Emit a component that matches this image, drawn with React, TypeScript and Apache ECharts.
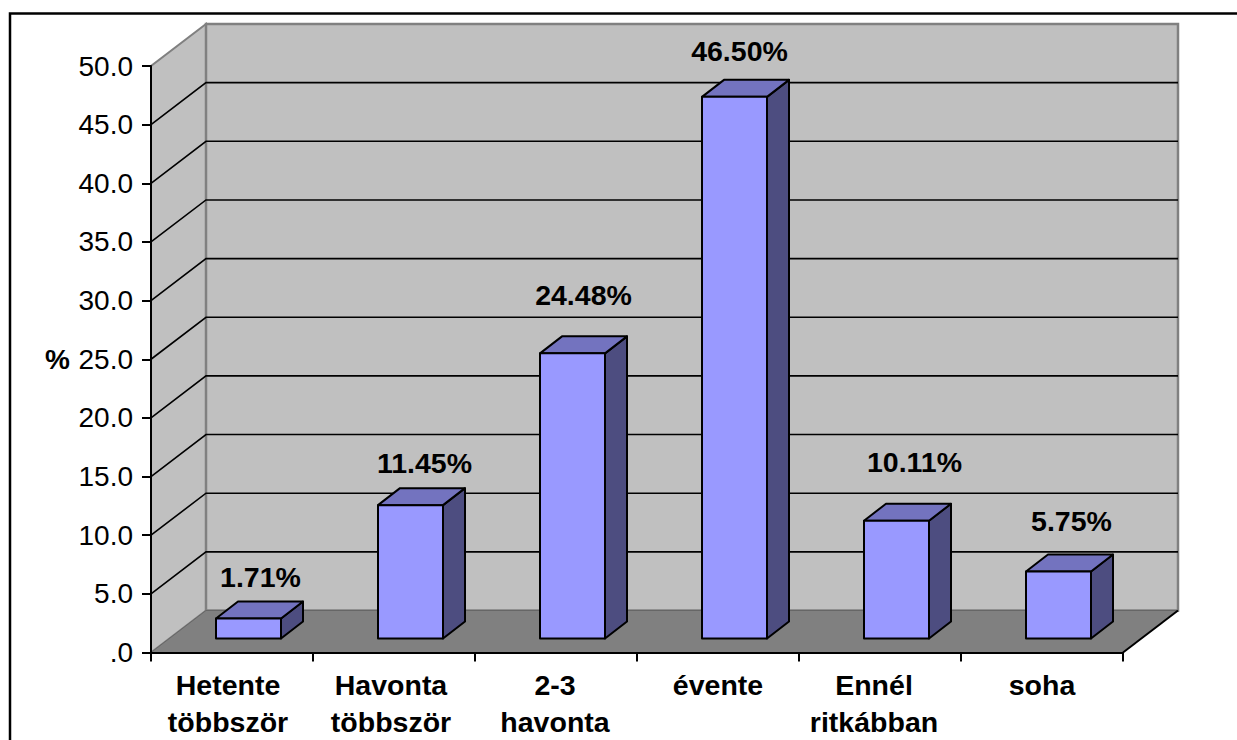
import React, { useEffect, useRef } from "react";
import * as echarts from "echarts";

const categories = ["Hetente\ntöbbször", "Havonta\ntöbbször", "2-3\nhavonta", "évente", "Ennél\nritkábban", "soha"];
const percentages = [1.71, 11.45, 24.48, 46.5, 10.11, 5.75];
const gridTicks = [5, 10, 15, 20, 25, 30, 35, 40, 45];
const labelNudgeX = [12, 14, 11, 5, 18, 13];
const labelNudgeY = [-24.5, -25, -41, -29, -42, -34];
const categoryShift = [4, 3, 1, 0, 6, 0];

const FONT = '"Liberation Sans", Arial, sans-serif';
const WALL_DX = 55;
const WALL_DY = -42;
const BAR_WIDTH = 65;
const BAR_DX = 22;
const BAR_DY = -17;
const BAR_SHIFT_X = 16.5;
const BAR_SHIFT_Y = -14;
const BAR_SCALE = 0.993;

function extent(api: any) {
  const slot = api.size([1, 0])[0];
  const o = api.coord([0, 0]);
  const last = api.coord([categories.length - 1, 0]);
  const top = api.coord([0, 50]);
  return { slot, left: o[0] - slot / 2, right: last[0] + slot / 2, y0: o[1], yTop: top[1] };
}

function renderWalls(_: any, api: any) {
  const { left, right, y0, yTop } = extent(api);
  const bx = left + WALL_DX;
  const brx = right + WALL_DX;
  const by = y0 + WALL_DY;
  const bt = yTop + WALL_DY;
  return {
    type: "group",
    children: [
      {
        type: "polygon",
        shape: { points: [[left, y0], [bx, by], [bx, bt], [left, yTop]] },
        style: { fill: "#C0C0C0", stroke: "#808080", lineWidth: 2 },
      },
      {
        type: "polygon",
        shape: { points: [[bx, by], [brx, by], [brx, bt], [bx, bt]] },
        style: { fill: "#C0C0C0", stroke: "#808080", lineWidth: 2.5 },
      },
      {
        type: "polygon",
        shape: { points: [[left, y0], [right, y0], [brx, by], [bx, by]] },
        style: { fill: "#808080", stroke: "#666666", lineWidth: 1 },
      },
      {
        type: "line",
        shape: { x1: right, y1: y0, x2: brx, y2: by },
        style: { stroke: "#000", lineWidth: 2 },
      },
    ],
  };
}

function renderGridline(_: any, api: any) {
  const { left, right } = extent(api);
  const y = api.coord([0, api.value(1)])[1];
  return {
    type: "polyline",
    shape: {
      points: [
        [left, y],
        [left + WALL_DX, y + WALL_DY],
        [right + WALL_DX, y + WALL_DY],
      ],
    },
    style: { fill: "none", stroke: "#000", lineWidth: 1.6 },
  };
}

function renderBar(params: any, api: any) {
  const i = api.value(0);
  const v = api.value(1);
  const base = api.coord([i, 0]);
  const x0 = base[0] + BAR_SHIFT_X - BAR_WIDTH / 2;
  const x1 = x0 + BAR_WIDTH;
  const yb = base[1] + BAR_SHIFT_Y;
  const yt = yb - (base[1] - api.coord([i, v])[1]) * BAR_SCALE;
  const edge = { stroke: "#000", lineWidth: 2, lineJoin: "round" };
  return {
    type: "group",
    children: [
      {
        type: "polygon",
        shape: { points: [[x1, yb], [x1 + BAR_DX, yb + BAR_DY], [x1 + BAR_DX, yt + BAR_DY], [x1, yt]] },
        style: { fill: "#4D4D80", ...edge },
      },
      {
        type: "polygon",
        shape: { points: [[x0, yt], [x1, yt], [x1 + BAR_DX, yt + BAR_DY], [x0 + BAR_DX, yt + BAR_DY]] },
        style: { fill: "#7373BF", ...edge },
      },
      {
        type: "rect",
        shape: { x: x0, y: yt, width: BAR_WIDTH, height: yb - yt },
        style: { fill: "#9999FF", ...edge },
      },
      {
        type: "text",
        x: (x0 + x1) / 2 + labelNudgeX[i],
        y: yt + BAR_DY + labelNudgeY[i],
        style: {
          text: v.toFixed(2) + "%",
          fill: "#000",
          font: `bold 28.5px ${FONT}`,
          align: "center",
          verticalAlign: "middle",
        },
      },
    ],
  };
}

const labelStyle = (shift: number) => ({
  color: "#000",
  fontFamily: FONT,
  fontWeight: "bold",
  fontSize: 28.5,
  lineHeight: 37,
  padding: [0, shift * 2, 0, 0],
});

export default function App() {
  const ref = useRef<HTMLDivElement>(null);
  useEffect(() => {
    const chart = echarts.init(ref.current!, null, { renderer: "svg" });
    const rich: Record<string, any> = {};
    categoryShift.forEach((s, i) => {
      rich["c" + i] = labelStyle(s);
    });
    chart.setOption({
      animation: false,
      backgroundColor: "#FFFFFF",
      grid: { left: 151, top: 66, width: 972, height: 586.5, containLabel: false, outerBoundsMode: "none" },
      xAxis: {
        type: "category",
        data: categories,
        z: 10,
        axisLine: { lineStyle: { color: "#000", width: 2 } },
        axisTick: { show: true, length: 9, lineStyle: { color: "#000", width: 2 } },
        axisLabel: {
          interval: 0,
          margin: 14,
          color: "#000",
          fontFamily: FONT,
          fontWeight: "bold",
          fontSize: 28.5,
          lineHeight: 37,
          formatter: (value: string, index: number) =>
            value
              .split("\n")
              .map((line) => `{c${index}|${line}}`)
              .join("\n"),
          rich,
        },
      },
      yAxis: {
        type: "value",
        min: 0,
        max: 50,
        interval: 5,
        z: 10,
        name: "%",
        nameLocation: "middle",
        nameRotate: 0,
        nameGap: 81,
        nameTextStyle: { color: "#000", fontFamily: FONT, fontWeight: "bold", fontSize: 28 },
        axisLine: { show: true, lineStyle: { color: "#000", width: 2 } },
        axisTick: { show: true, length: 9, lineStyle: { color: "#000", width: 2 } },
        splitLine: { show: false },
        axisLabel: {
          margin: 18,
          color: "#000",
          fontFamily: FONT,
          fontSize: 28,
          formatter: (v: number) => (v === 0 ? ".0" : v.toFixed(1)),
        },
      },
      graphic: [
        {
          type: "polyline",
          shape: { points: [[10, 740], [10, 13.5], [1237, 13.5]] },
          style: { fill: "none", stroke: "#000", lineWidth: 2.5 },
        },
      ],
      series: [
        { type: "custom", z: 1, silent: true, coordinateSystem: "cartesian2d", renderItem: renderWalls, data: [[0, 0]] },
        {
          type: "custom",
          z: 2,
          silent: true,
          coordinateSystem: "cartesian2d",
          renderItem: renderGridline,
          data: gridTicks.map((t) => [0, t]),
        },
        {
          type: "custom",
          z: 3,
          silent: true,
          coordinateSystem: "cartesian2d",
          renderItem: renderBar,
          data: percentages.map((v, i) => [i, v]),
        },
      ],
    });
    return () => chart.dispose();
  }, []);
  return <div ref={ref} style={{ position: "absolute", left: 0, top: 0, width: 1237, height: 740 }} />;
}
